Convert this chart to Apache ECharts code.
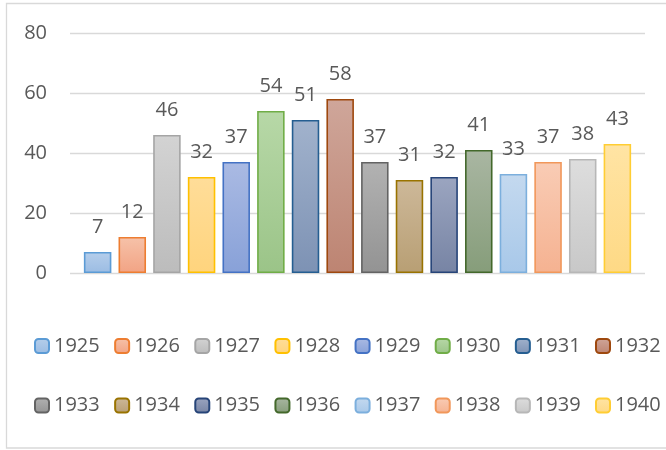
<!DOCTYPE html>
<html>
<head>
<meta charset="utf-8">
<title>Chart</title>
<script src="https://cdn.jsdelivr.net/npm/echarts@6/dist/echarts.min.js"></script>
<style>
  html, body { margin: 0; padding: 0; background: #fff; }
  #chart { width: 666px; height: 450px; }
</style>
</head>
<body>
<div id="chart"></div>
<script>
// data
const years = ['1925', '1926', '1927', '1928', '1929', '1930', '1931', '1932',
               '1933', '1934', '1935', '1936', '1937', '1938', '1939', '1940'];
const values = [7, 12, 46, 32, 37, 54, 51, 58, 37, 31, 32, 41, 33, 37, 38, 43];
const yTicks = [0, 20, 40, 60, 80];

// office-like palette: border, gradient top, gradient bottom
const borderColors = ['#5B9BD5', '#ED7D31', '#A5A5A5', '#FFC000', '#4472C4', '#70AD47', '#255E91', '#9E480E',
                      '#636363', '#997300', '#264478', '#43682B', '#7CAFDD', '#F1975A', '#B7B7B7', '#FFCD33'];
const topColors = ['#B5CEEB', '#F6C2A9', '#D3D3D3', '#FFDD99', '#AABAE3', '#B7D8A7', '#A1B2CC', '#CFA69A',
                   '#B2B2B2', '#CDB899', '#9BA5C0', '#A9B6A2', '#C4D9EF', '#F9CCB5', '#DDDDDD', '#FFE4A4'];
const bottomColors = ['#9BBCE3', '#F2A384', '#BCBCBC', '#FFD47D', '#88A1D8', '#9BC488', '#7D92B4', '#BD8472',
                      '#939393', '#B89F74', '#7784A4', '#869D7A', '#A8C8E9', '#F5B291', '#C8C8C8', '#FED985'];

const textColor = '#595959';
const fontFamily = '"Open Sans", sans-serif';

const series = years.map(function (y, i) {
    return {
        name: y,
        type: 'bar',
        data: [values[i]],
        barWidth: 27.5,
        barGap: '26%',
        itemStyle: {
            color: {
                type: 'linear', x: 0, y: 0, x2: 0, y2: 1,
                colorStops: [
                    {offset: 0, color: topColors[i]},
                    {offset: 1, color: bottomColors[i]}
                ]
            },
            borderColor: borderColors[i],
            borderWidth: 1.6
        },
        label: {
            show: true,
            position: 'top',
            distance: 15,
            color: textColor,
            fontSize: 20,
            fontFamily: fontFamily
        }
    };
});

const legendBase = {
    orient: 'horizontal',
    left: 34,
    width: 640,
    padding: 0,
    itemWidth: 14,
    itemHeight: 14,
    itemGap: 14.4,
    textStyle: {color: textColor, fontSize: 20, fontFamily: fontFamily}
};

let myChart = echarts.init(document.getElementById('chart'));
myChart.setOption({
    animation: false,
    backgroundColor: '#fff',
    grid: {left: 70, right: 21, top: 33, bottom: 177},
    legend: [
        Object.assign({}, legendBase, {top: 336, data: years.slice(0, 8)}),
        Object.assign({}, legendBase, {top: 395.5, data: years.slice(8)})
    ],
    xAxis: {
        type: 'category',
        data: [''],
        axisLine: {show: false},
        axisTick: {show: false},
        axisLabel: {show: false}
    },
    yAxis: {
        type: 'value',
        min: yTicks[0],
        max: yTicks[yTicks.length - 1],
        interval: yTicks[1] - yTicks[0],
        axisLine: {show: false},
        axisTick: {show: false},
        axisLabel: {color: textColor, fontSize: 20, fontFamily: fontFamily, margin: 23},
        splitLine: {lineStyle: {color: '#D9D9D9', width: 1.3}}
    },
    graphic: [{
        type: 'rect',
        shape: {x: 6.5, y: 3.5, width: 700, height: 444.5},
        style: {fill: null, stroke: '#D9D9D9', lineWidth: 1.3},
        silent: true
    }],
    series: series
});
</script>
</body>
</html>
